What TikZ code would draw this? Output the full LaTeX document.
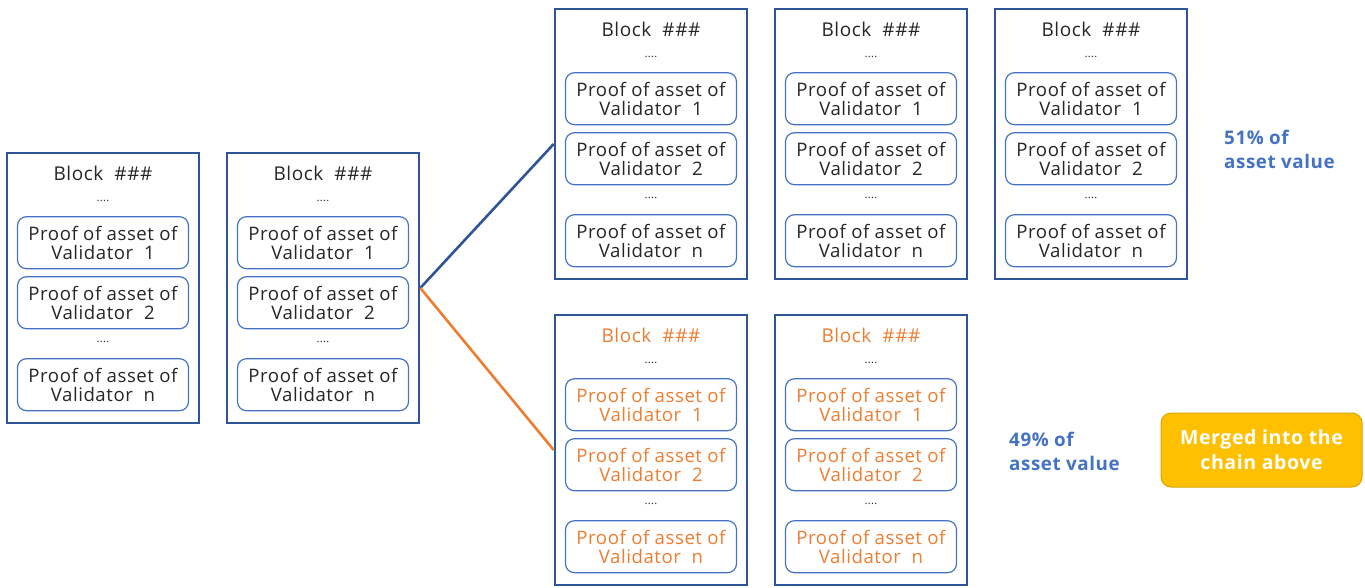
\documentclass[tikz,border=0pt]{standalone}
\usepackage{fontspec}
\setmainfont{Open Sans}[LetterSpace=3]
\usetikzlibrary{positioning}

\definecolor{blockblue}{HTML}{2F5597}
\definecolor{boxblue}{HTML}{4472C4}
\definecolor{forkorange}{HTML}{ED7D31}
\definecolor{mergegold}{HTML}{FFC000}
\definecolor{mergeedge}{HTML}{D9A400}
\definecolor{textgrey}{HTML}{262626}

\tikzset{
  blockframe/.style={draw=blockblue, line width=2.6pt, minimum width=192pt, minimum height=270pt, inner sep=0pt},
  blocktitle/.style={font=\fontsize{19}{20}\selectfont, inner sep=0pt},
  blockdots/.style={font=\fontsize{11}{12}\selectfont, text=textgrey, inner sep=0pt},
  proofbox/.style={draw=boxblue, line width=1.2pt, rounded corners=9pt, minimum width=171pt, minimum height=52pt, align=center, inner sep=0pt, font=\fontsize{18.6}{19}\selectfont},
  sharelabel/.style={text=boxblue, align=left, inner sep=0pt, font=\bfseries\fontsize{18.8}{24}\selectfont},
  mergebox/.style={draw=mergeedge, fill=mergegold, line width=1pt, rounded corners=10pt, minimum width=201pt, minimum height=74pt, align=center, text=white, font=\bfseries\fontsize{19.5}{25}\selectfont}
}

\begin{document}
\begin{tikzpicture}[x=1pt, y=-1pt]
  \useasboundingbox (0,0) rectangle (1365,587);

  % blocks of both chains
  \foreach \n/\x/\y/\c in {b1/103/288/textgrey, b2/323/288/textgrey,
                           t1/651/144/textgrey, t2/871/144/textgrey, t3/1091/144/textgrey,
                           o1/651/450/forkorange, o2/871/450/forkorange} {
    \node[blockframe] (\n) at (\x,\y) {};
    \node[blocktitle, text=\c] (\n-title) at ([yshift=-22pt]\n.north) {Block\ \ \#\#\#};
    \node[blockdots] (\n-dots) at ([yshift=-49pt]\n.north) {....};
    \node[proofbox, text=\c] (\n-p1) at ([yshift=-91pt]\n.north) {Proof of asset of\\Validator\ \ 1};
    \node[proofbox, text=\c] (\n-p2) at ([yshift=-151pt]\n.north) {Proof of asset of\\Validator\ \ 2};
    \node[blockdots] (\n-more) at ([yshift=-190pt]\n.north) {....};
    \node[proofbox, text=\c] (\n-pn) at ([yshift=-233pt]\n.north) {Proof of asset of\\Validator\ \ n};
  }

  % fork
  \draw[blockblue, line width=2.6pt] (b2.east) -- (t1.west);
  \draw[forkorange, line width=2.6pt] (b2.east) -- (o1.west);

  \node[sharelabel, anchor=west] (upper) at (1224,149) {51\% of\\asset value};
  \node[sharelabel, anchor=west] (lower) at (1009,451) {49\% of\\asset value};
  \node[mergebox] (merged) at (1261.5,450) {Merged into the\\chain above};
\end{tikzpicture}
\end{document}
